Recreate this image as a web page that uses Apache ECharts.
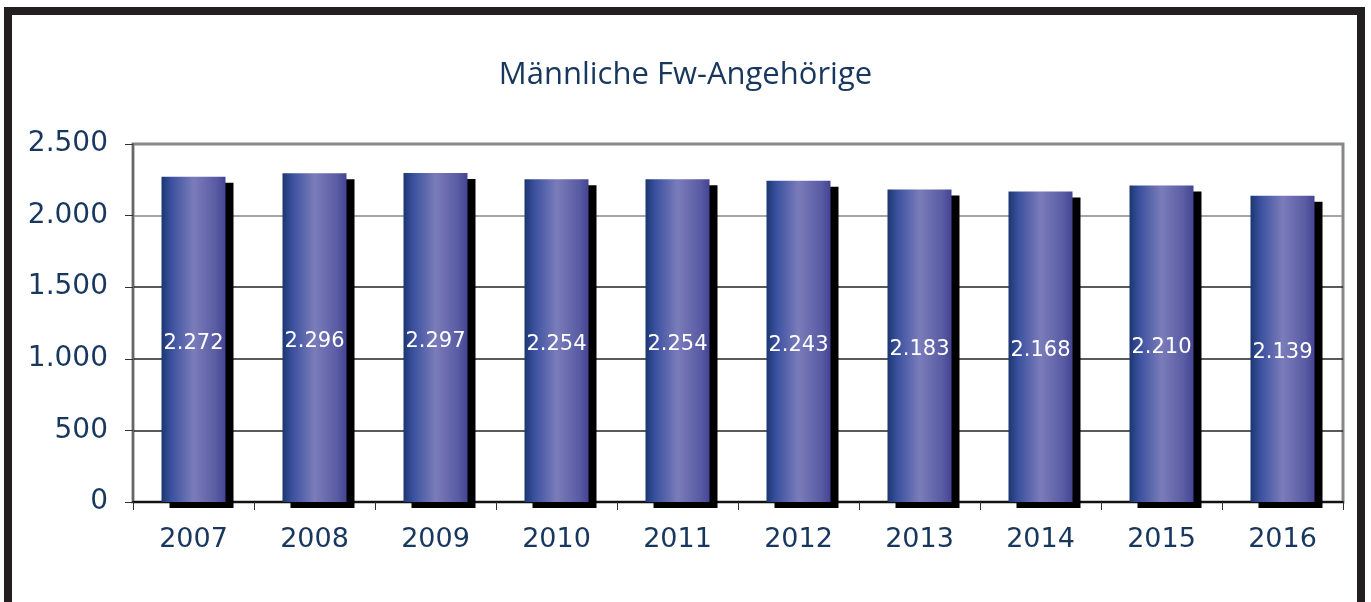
<!DOCTYPE html>
<html>
<head>
<meta charset="utf-8">
<script src="https://cdn.jsdelivr.net/npm/echarts@6/dist/echarts.min.js"></script>
<style>
  html, body { margin: 0; padding: 0; background: #fff; overflow: hidden; }
  .frame {
    position: absolute;
    left: 4px; top: 7px;
    width: 1345px; height: 640px;
    border: 8px solid #231f20;
  }
  #chart { position: absolute; left: 0; top: 0; width: 1371px; height: 602px; }
</style>
</head>
<body>
<div class="frame"></div>
<div id="chart"></div>
<script>
// Daten
const years = ['2007', '2008', '2009', '2010', '2011', '2012', '2013', '2014', '2015', '2016'];
const values = [2272, 2296, 2297, 2254, 2254, 2243, 2183, 2168, 2210, 2139];

const navy = '#17375e';

// Tausenderpunkt wie im Original
const fmt = (v) => String(v).replace(/\B(?=(\d{3})+(?!\d))/g, '.');

const chart = echarts.init(document.getElementById('chart'));

const option = {
  animation: false,
  title: {
    text: 'Männliche Fw-Angehörige',
    left: 'center',
    top: 55,
    textStyle: {
      fontFamily: 'Open Sans',
      fontWeight: 'normal',
      fontSize: 31,
      color: navy,
    },
  },
  grid: {
    left: 133,
    right: 28,
    top: 144,
    bottom: 100,
    show: true,
    borderColor: '#888',
    borderWidth: 3,
  },
  xAxis: {
    type: 'category',
    data: years,
    axisLine: { lineStyle: { color: '#111', width: 2 } },
    axisTick: { show: true, length: 8, lineStyle: { color: '#333' } },
    axisLabel: {
      margin: 24,
      fontFamily: 'DejaVu Sans',
      fontSize: 27,
      color: navy,
    },
  },
  yAxis: {
    type: 'value',
    min: 0,
    max: 2500,
    interval: 500,
    axisLine: { show: true, lineStyle: { color: '#666', width: 2 } },
    axisTick: { show: true, length: 8, lineStyle: { color: '#333' } },
    axisLabel: {
      margin: 25,
      fontFamily: 'DejaVu Sans',
      fontSize: 28,
      color: navy,
      formatter: fmt,
    },
    splitLine: {
      show: true,
      lineStyle: { color: ['#222', '#222', '#222', '#222', '#888', '#888'], width: 1.5 },
    },
  },
  series: [
    {
      type: 'bar',
      data: values,
      barWidth: 64,
      itemStyle: {
        color: new echarts.graphic.LinearGradient(0, 0, 1, 0, [
          { offset: 0, color: '#1b3670' },
          { offset: 0.15, color: '#3a509e' },
          { offset: 0.5, color: '#7a7cba' },
          { offset: 0.85, color: '#5a5ca4' },
          { offset: 1, color: '#444493' },
        ]),
        shadowColor: '#000',
        shadowBlur: 0,
        shadowOffsetX: 8,
        shadowOffsetY: 6,
      },
      label: {
        show: true,
        position: 'inside',
        offset: [0, 4],
        fontFamily: 'DejaVu Sans',
        fontSize: 21,
        color: '#fff',
        formatter: (p) => fmt(p.value),
      },
    },
  ],
};

chart.setOption(option);
</script>
</body>
</html>
